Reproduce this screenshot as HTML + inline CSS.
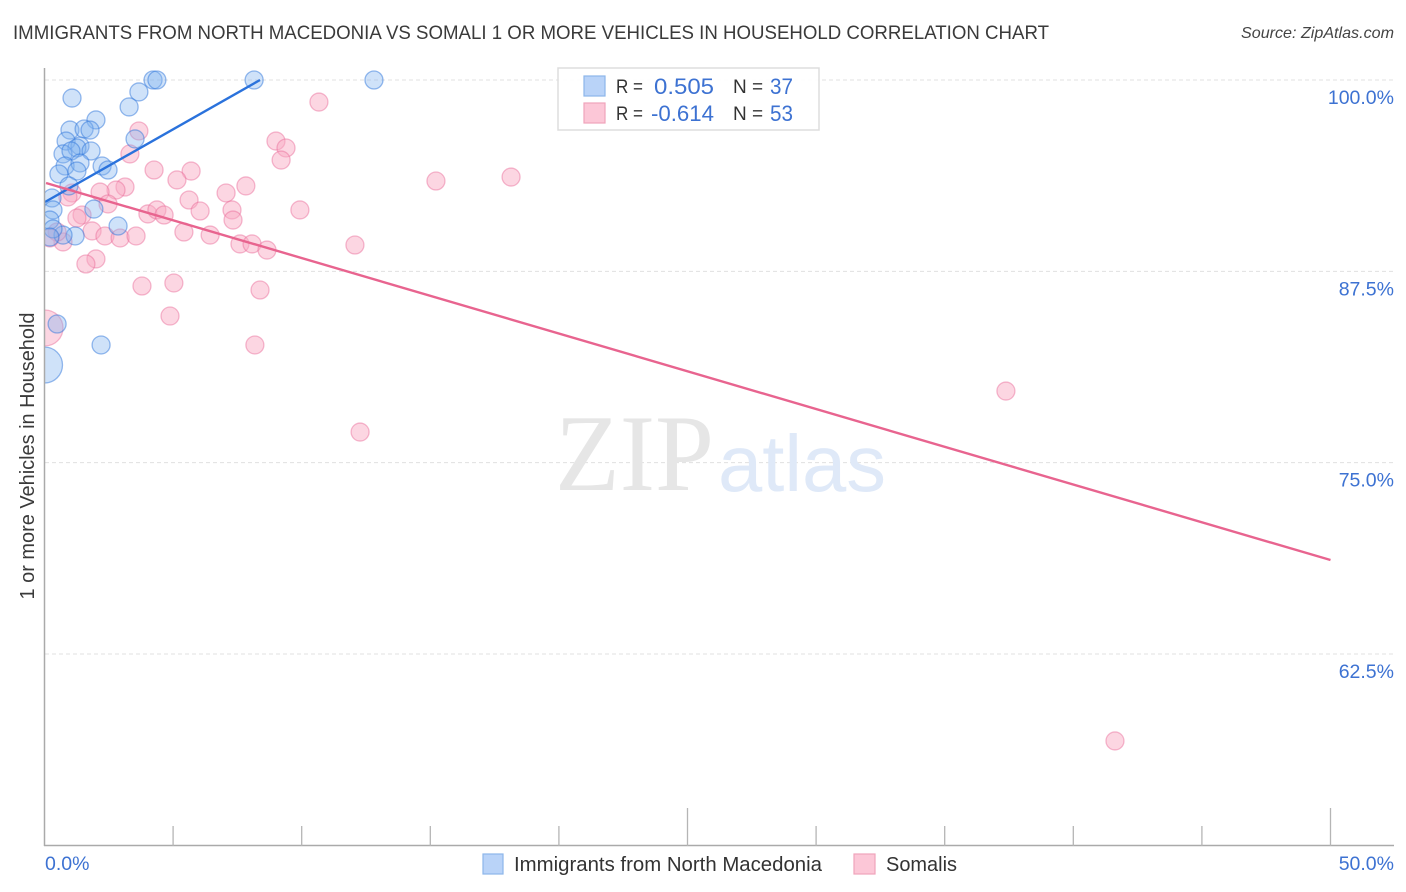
<!DOCTYPE html>
<html lang="en">
<head>
<meta charset="utf-8">
<title>Immigrants from North Macedonia vs Somali 1 or more Vehicles in Household Correlation Chart</title>
<style>
html,body{margin:0;padding:0;background:#fff;}
svg{display:block;}
text{font-family:"Liberation Sans",sans-serif;}
</style>
</head>
<body>
<svg id="chart" xmlns="http://www.w3.org/2000/svg" width="1406" height="892" viewBox="0 0 1406 892">
  <text x="13" y="39" font-size="19.5" fill="#3a3a3a" textLength="1036" lengthAdjust="spacingAndGlyphs">IMMIGRANTS FROM NORTH MACEDONIA VS SOMALI 1 OR MORE VEHICLES IN HOUSEHOLD CORRELATION CHART</text>
  <text x="1394" y="38" font-size="16" font-style="italic" fill="#444" text-anchor="end" textLength="153" lengthAdjust="spacingAndGlyphs">Source: ZipAtlas.com</text>
  <g id="grid"></g>
  <g>
    <text x="555" y="490" font-size="109" fill="#e6e6e6" textLength="159" lengthAdjust="spacingAndGlyphs" style="font-family:'Liberation Serif',serif">ZIP</text>
    <text x="718" y="491" font-size="80" fill="#dfe9f8" textLength="168" lengthAdjust="spacingAndGlyphs">atlas</text>
  </g>
  <g id="points"></g>
  <rect x="0" y="60" width="44" height="786" fill="#fff"/>
  <g id="trends"></g>
  <g id="axes"></g>
  <text transform="translate(34,456) rotate(-90)" font-size="20" fill="#3a3a3a" text-anchor="middle" textLength="287" lengthAdjust="spacingAndGlyphs">1 or more Vehicles in Household</text>
  <g>
    <rect x="558" y="68" width="261" height="62" fill="#fff" fill-opacity="0.92" stroke="#ddd" stroke-width="1.5"/>
    <rect x="584" y="76" width="21" height="20" fill="#b9d3f8" stroke="#8db6ea" stroke-width="1.2"/>
    <rect x="584" y="103" width="21" height="20" fill="#fcc7d7" stroke="#f0a3bb" stroke-width="1.2"/>
    <text x="616" y="93" font-size="19" fill="#333" textLength="27" lengthAdjust="spacingAndGlyphs">R =</text>
    <text x="654" y="94" font-size="22" fill="#3d72d2" textLength="60" lengthAdjust="spacingAndGlyphs">0.505</text>
    <text x="733" y="93" font-size="19" fill="#333">N =</text>
    <text x="770" y="94" font-size="22" fill="#3d72d2" textLength="23" lengthAdjust="spacingAndGlyphs">37</text>
    <text x="616" y="120" font-size="19" fill="#333" textLength="27" lengthAdjust="spacingAndGlyphs">R =</text>
    <text x="651" y="121" font-size="22" fill="#3d72d2" textLength="63" lengthAdjust="spacingAndGlyphs">-0.614</text>
    <text x="733" y="120" font-size="19" fill="#333">N =</text>
    <text x="770" y="121" font-size="22" fill="#3d72d2" textLength="23" lengthAdjust="spacingAndGlyphs">53</text>
  </g>
  <g>
    <rect x="483" y="854" width="20" height="20" fill="#b9d3f8" stroke="#8db6ea" stroke-width="1.2"/>
    <text x="514" y="871" font-size="20" fill="#333" textLength="308" lengthAdjust="spacingAndGlyphs">Immigrants from North Macedonia</text>
  </g>
  <g>
    <rect x="854" y="854" width="21" height="20" fill="#fcc7d7" stroke="#f0a3bb" stroke-width="1.2"/>
    <text x="886" y="871" font-size="20" fill="#333" textLength="71" lengthAdjust="spacingAndGlyphs">Somalis</text>
  </g>
</svg>
<script>
// Data (x: percent of population, y: percent of households)
const macedoniaX = [8.15,12.81,4.22,4.37,3.67,3.29,1.07,2.00,0.99,1.54,1.77,0.84,3.52,1.38,1.26,0.72,1.03,1.81,0.80,1.38,2.24,2.47,0.56,1.26,0.95,0.29,0.33,1.92,0.21,2.86,1.19,0.72,0.33,0.21,0.49,2.20,0.00];
const macedoniaY = [100,100,100,100,99.22,98.24,98.82,97.39,96.73,96.80,96.73,96.01,96.15,95.69,95.56,95.17,95.36,95.36,94.38,94.58,94.38,94.12,93.86,94.05,93.08,92.29,91.51,91.57,90.85,90.46,89.81,89.87,90.27,89.74,84.06,82.69,81.38];
const macedoniaWeight = [1,1,1,1,1,1,1,1,1,1,1,1,1,1,1,1,1,1,1,1,1,1,1,1,1,1,1,1,1,1,1,1,1,1,1,1,4];
const somaliX = [3.67,3.32,4.26,5.70,5.15,3.13,2.78,2.16,1.07,0.91,2.47,5.62,6.05,4.02,4.37,4.65,10.67,9.00,9.39,9.20,7.83,7.06,7.29,7.33,9.93,1.46,1.26,1.85,2.35,2.94,3.56,5.42,6.44,2.00,1.61,3.79,5.03,4.88,0.02,0.72,0.49,0.21,7.60,8.07,8.65,12.07,8.38,8.18,12.27,37.38,41.62,15.22,18.14];
const somaliY = [96.67,95.17,94.12,94.05,93.47,93.01,92.81,92.68,92.62,92.36,91.90,92.16,91.44,91.25,91.51,91.18,98.56,96.01,95.56,94.77,93.08,92.62,91.51,90.85,91.51,91.18,90.98,90.14,89.81,89.68,89.81,90.07,89.87,88.31,87.98,86.54,86.74,84.58,83.80,89.42,90.07,89.68,89.29,89.29,88.89,89.22,86.28,82.69,77.00,79.68,56.82,93.40,93.66];
const somaliWeight = [1,1,1,1,1,1,1,1,1,1,1,1,1,1,1,1,1,1,1,1,1,1,1,1,1,1,1,1,1,1,1,1,1,1,1,1,1,1,4,1,1,1,1,1,1,1,1,1,1,1,1,1,1];
const macedoniaTrendX = [0.02,8.38];
const macedoniaTrendY = [92.03,100];
const somaliTrendX = [0.06,50];
const somaliTrendY = [93.27,68.64];
const yTickValues = [100,87.5,75,62.5];
const yTickLabels = ["100.0%","87.5%","75.0%","62.5%"];
const xTickValues = [5,10,15,20,25,30,35,40,45,50];
const xEndValues = [0,50];
const xEndLabels = ["0.0%","50.0%"];

function xScale(v){return 44.5 + v*25.72;}
function yScale(v){return 80 + (100-v)*15.307;}
function radius(w){return 9*Math.sqrt(w);}

const NS = "http://www.w3.org/2000/svg";
const gridG = document.getElementById("grid");
const axesG = document.getElementById("axes");
const pointsG = document.getElementById("points");
const trendsG = document.getElementById("trends");

yTickValues.forEach(function(v,i){
  const ln = document.createElementNS(NS,"line");
  
  
  ln.setAttribute("x1",45);
  ln.setAttribute("x2",1394);
  ln.setAttribute("y1",yScale(v));
  ln.setAttribute("y2",yScale(v));
  ln.setAttribute("stroke","#e0e0e0");
  ln.setAttribute("stroke-width","1");
  ln.setAttribute("stroke-dasharray","4 3");
  gridG.appendChild(ln);
  const t = document.createElementNS(NS,"text");
  
  
  t.setAttribute("x",1394);
  t.setAttribute("y",yScale(v)+24);
  t.setAttribute("text-anchor","end");
  t.setAttribute("font-size","19.5");
  t.setAttribute("fill","#3d72d2");
  t.textContent = yTickLabels[i];
  axesG.appendChild(t);
});

const yAxisLine = document.createElementNS(NS,"line");


yAxisLine.setAttribute("x1",44.5);
yAxisLine.setAttribute("x2",44.5);
yAxisLine.setAttribute("y1",68);
yAxisLine.setAttribute("y2",846);
yAxisLine.setAttribute("stroke","#aaa");
yAxisLine.setAttribute("stroke-width","1.5");
axesG.appendChild(yAxisLine);

const xAxisLine = document.createElementNS(NS,"line");


xAxisLine.setAttribute("x1",44);
xAxisLine.setAttribute("x2",1394);
xAxisLine.setAttribute("y1",845.5);
xAxisLine.setAttribute("y2",845.5);
xAxisLine.setAttribute("stroke","#aaa");
xAxisLine.setAttribute("stroke-width","1.5");
axesG.appendChild(xAxisLine);

xTickValues.forEach(function(v){
  const major = v % 25 === 0;
  const tk = document.createElementNS(NS,"line");
  
  
  tk.setAttribute("x1",xScale(v));
  tk.setAttribute("x2",xScale(v));
  tk.setAttribute("y1",major ? 808 : 826);
  tk.setAttribute("y2",846);
  tk.setAttribute("stroke","#b5b5b5");
  tk.setAttribute("stroke-width","1.3");
  axesG.appendChild(tk);
});

xEndValues.forEach(function(v,i){
  const t = document.createElementNS(NS,"text");
  
  
  t.setAttribute("x",i === 0 ? 45 : 1394);
  t.setAttribute("y",870);
  t.setAttribute("text-anchor",i === 0 ? "start" : "end");
  t.setAttribute("font-size","19.5");
  t.setAttribute("fill","#3d72d2");
  t.textContent = xEndLabels[i];
  axesG.appendChild(t);
});

somaliX.forEach(function(v,i){
  const c = document.createElementNS(NS,"circle");
  
  
  c.setAttribute("cx",xScale(v));
  c.setAttribute("cy",yScale(somaliY[i]));
  c.setAttribute("r",radius(somaliWeight[i]));
  c.setAttribute("fill","rgba(249,170,195,0.48)");
  c.setAttribute("stroke","rgba(232,105,150,0.45)");
  c.setAttribute("stroke-width","1.3");
  pointsG.appendChild(c);
});

macedoniaX.forEach(function(v,i){
  const c = document.createElementNS(NS,"circle");
  
  
  c.setAttribute("cx",xScale(v));
  c.setAttribute("cy",yScale(macedoniaY[i]));
  c.setAttribute("r",radius(macedoniaWeight[i]));
  c.setAttribute("fill","rgba(130,180,240,0.38)");
  c.setAttribute("stroke","rgba(50,120,220,0.5)");
  c.setAttribute("stroke-width","1.3");
  pointsG.appendChild(c);
});

const macedoniaTrend = document.createElementNS(NS,"line");


macedoniaTrend.setAttribute("x1",xScale(macedoniaTrendX[0]));
macedoniaTrend.setAttribute("x2",xScale(macedoniaTrendX[1]));
macedoniaTrend.setAttribute("y1",yScale(macedoniaTrendY[0]));
macedoniaTrend.setAttribute("y2",yScale(macedoniaTrendY[1]));
macedoniaTrend.setAttribute("stroke","#2a72dc");
macedoniaTrend.setAttribute("stroke-width","2.4");
trendsG.appendChild(macedoniaTrend);

const somaliTrend = document.createElementNS(NS,"line");


somaliTrend.setAttribute("x1",xScale(somaliTrendX[0]));
somaliTrend.setAttribute("x2",xScale(somaliTrendX[1]));
somaliTrend.setAttribute("y1",yScale(somaliTrendY[0]));
somaliTrend.setAttribute("y2",yScale(somaliTrendY[1]));
somaliTrend.setAttribute("stroke","#e8648f");
somaliTrend.setAttribute("stroke-width","2.4");
trendsG.appendChild(somaliTrend);
</script>
</body>
</html>
